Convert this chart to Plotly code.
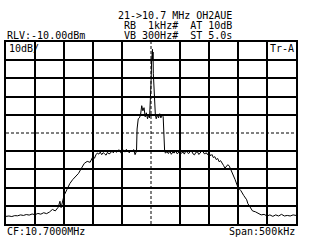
import plotly.graph_objects as go

# Frequency offset from centre (kHz) and measured level (dBm)
freq_khz = [-250, -245, -240, -235, -230, -225, -220, -215, -210, -205, -200, -195, -190, -185, -180,
            -175, -170, -165, -160, -157, -155, -152, -150, -145, -140, -135, -130, -125, -120, -115,
            -110, -105,
            -100, -97.5, -95, -92.5, -90, -87.5, -85, -82.5, -80, -77.5, -75, -72.5, -70, -67.5,
            -65, -62.5, -60, -57.5, -55, -52.5, -50, -47.5, -45, -42.5, -40, -37.5, -35, -32.5,
            -30, -27.5, -25,
            -24, -22, -20, -18, -16, -14, -12, -10, -8, -6, -4, -2.5, -1, 0, 1, 2, 2.5, 3,
            3.5, 4, 5, 6, 7.5, 9, 11, 13, 15, 17, 19, 21, 22.5, 23.5,
            25, 27.5, 30, 32.5, 35, 37.5, 40, 42.5, 45, 47.5, 50, 52.5, 55, 57.5, 60, 62.5, 65,
            67.5, 70, 72.5, 75, 77.5, 80, 82.5, 85, 87.5, 90, 92.5, 95, 97.5, 100, 102.5, 105,
            107.5, 110, 112.5, 115, 117.5, 120, 122.5, 125, 127.5, 130, 132.5, 135, 137.5, 140,
            145, 150, 155, 160, 163, 165, 167, 170, 175, 180, 185, 190, 195, 200, 205, 210, 215,
            220, 225, 230, 235, 240, 245, 250]
level_dbm = [-105.8, -105.6, -105.9, -105.4, -105.5, -105.0, -105.3, -104.8, -105.1, -104.5, -104.9,
             -104.2, -104.6, -103.8, -104.3, -103.4, -102.0, -102.8, -100.8, -97.5, -101.0, -96.5,
             -94.4, -91.1, -87.8, -85.6, -83.9, -82.2, -79.4, -76.7, -75.6, -76.1,
             -72.8, -73.9, -72.0, -71.0, -71.6, -70.5, -71.9, -70.8, -71.4, -72.2, -70.6, -71.5,
             -71.1, -69.8, -70.9, -69.5, -70.6, -69.9, -69.2, -70.8, -70.3, -69.4, -70.5, -69.0,
             -69.8, -70.9, -69.6, -70.4, -69.1, -71.9, -70.0,
             -57.8, -52.2, -51.7, -50.0, -45.0, -47.8, -46.1, -51.1, -48.9, -52.2, -50.0, -51.7,
             -43.9, -32.8, -21.0, -15.5, -14.0, -19.5, -15.5, -27.2, -36.7, -45.6, -50.0, -52.2,
             -50.0, -51.7, -49.4, -51.7, -50.0, -51.1, -60.6, -70.0,
             -71.1, -70.2, -71.3, -70.0, -71.7, -70.5, -71.0, -69.9, -71.4, -70.6, -70.1, -71.2,
             -70.4, -71.6, -69.8, -70.7, -71.3, -70.2, -69.9, -71.5, -72.0, -70.6, -70.3, -71.8,
             -70.9, -69.9, -70.4, -71.6, -70.8, -71.9, -70.5, -72.6, -71.8, -73.5, -73.0, -74.6,
             -74.0, -75.8, -75.2, -77.0, -77.8, -79.3, -78.6, -77.4, -78.2, -80.0, -81.2,
             -85.6, -90.0, -91.7, -94.4, -95.5, -96.7, -98.8, -100.6, -102.8, -103.3, -104.4,
             -105.0, -104.7, -105.6, -105.0, -105.8, -105.0, -105.6, -104.7, -105.6, -105.3,
             -105.6, -105.0, -105.3]

span_khz = 500
ref_level = -10
db_per_div = 10
n_div = 10

title_lines = ["21->10.7 MHz OH2AUE", "RB  1kHz#  AT 10dB", "VB 300Hz#  ST 5.0s"]
rlv_text = "RLV:-10.00dBm"
scale_text = "10dB/"
trace_text = "Tr-A"
cf_text = "CF:10.7000MHz"
span_text = "Span:500kHz"

x_min, x_max = -span_khz / 2, span_khz / 2
y_max = ref_level
y_min = ref_level - db_per_div * n_div
y_mid = (y_max + y_min) / 2

x_grid = [x_min + i * span_khz / n_div for i in range(1, n_div) if i != n_div // 2]
y_grid = [y_min + i * db_per_div for i in range(1, n_div) if i != n_div // 2]

FONT = "DejaVu Sans Mono"

fig = go.Figure()
fig.add_trace(go.Scatter(x=freq_khz, y=level_dbm, mode="lines",
                         line=dict(color="black", width=1), hoverinfo="skip"))

fig.update_layout(
    width=320, height=240,
    margin=dict(l=6, r=24, t=42, b=16),
    paper_bgcolor="white", plot_bgcolor="white",
    showlegend=False,
    font=dict(family=FONT, size=10, color="black"),
    xaxis=dict(range=[x_min, x_max], tickvals=x_grid, showticklabels=False, ticks="",
               showgrid=True, gridcolor="black", gridwidth=2, zeroline=False,
               showline=True, linecolor="black", linewidth=2, mirror=True, fixedrange=True),
    yaxis=dict(range=[y_min, y_max], tickvals=y_grid, showticklabels=False, ticks="",
               showgrid=True, gridcolor="black", gridwidth=2, zeroline=False,
               showline=True, linecolor="black", linewidth=2, mirror=True, fixedrange=True),
)

# dashed centre lines
fig.add_shape(type="line", x0=0, x1=0, y0=y_min, y1=y_max, xref="x", yref="y",
              line=dict(color="black", width=1, dash="3px,2px"), layer="below")
fig.add_shape(type="line", x0=x_min, x1=x_max, y0=y_mid, y1=y_mid, xref="x", yref="y",
              line=dict(color="black", width=1, dash="3px,2px"), layer="below")

def ann(text, x, y, xanchor, yanchor="middle"):
    fig.add_annotation(text=text, x=x, y=y, xref="paper", yref="paper", showarrow=False,
                       xanchor=xanchor, yanchor=yanchor, font=dict(family=FONT, size=10, color="black"),
                       borderpad=0)

ann(title_lines[0], 0.783, 1.146, "right")
ann(title_lines[1], 0.783, 1.090, "right")
ann(title_lines[2], 0.783, 1.036, "right")
ann(rlv_text, 0.0, 1.036, "left")
ann(scale_text, 0.006, 0.962, "left")
ann(trace_text, 0.907, 0.962, "left")
ann(cf_text, 0.0, -0.041, "left")
ann(span_text, 1.0, -0.041, "right")

fig.write_html("out.html")
